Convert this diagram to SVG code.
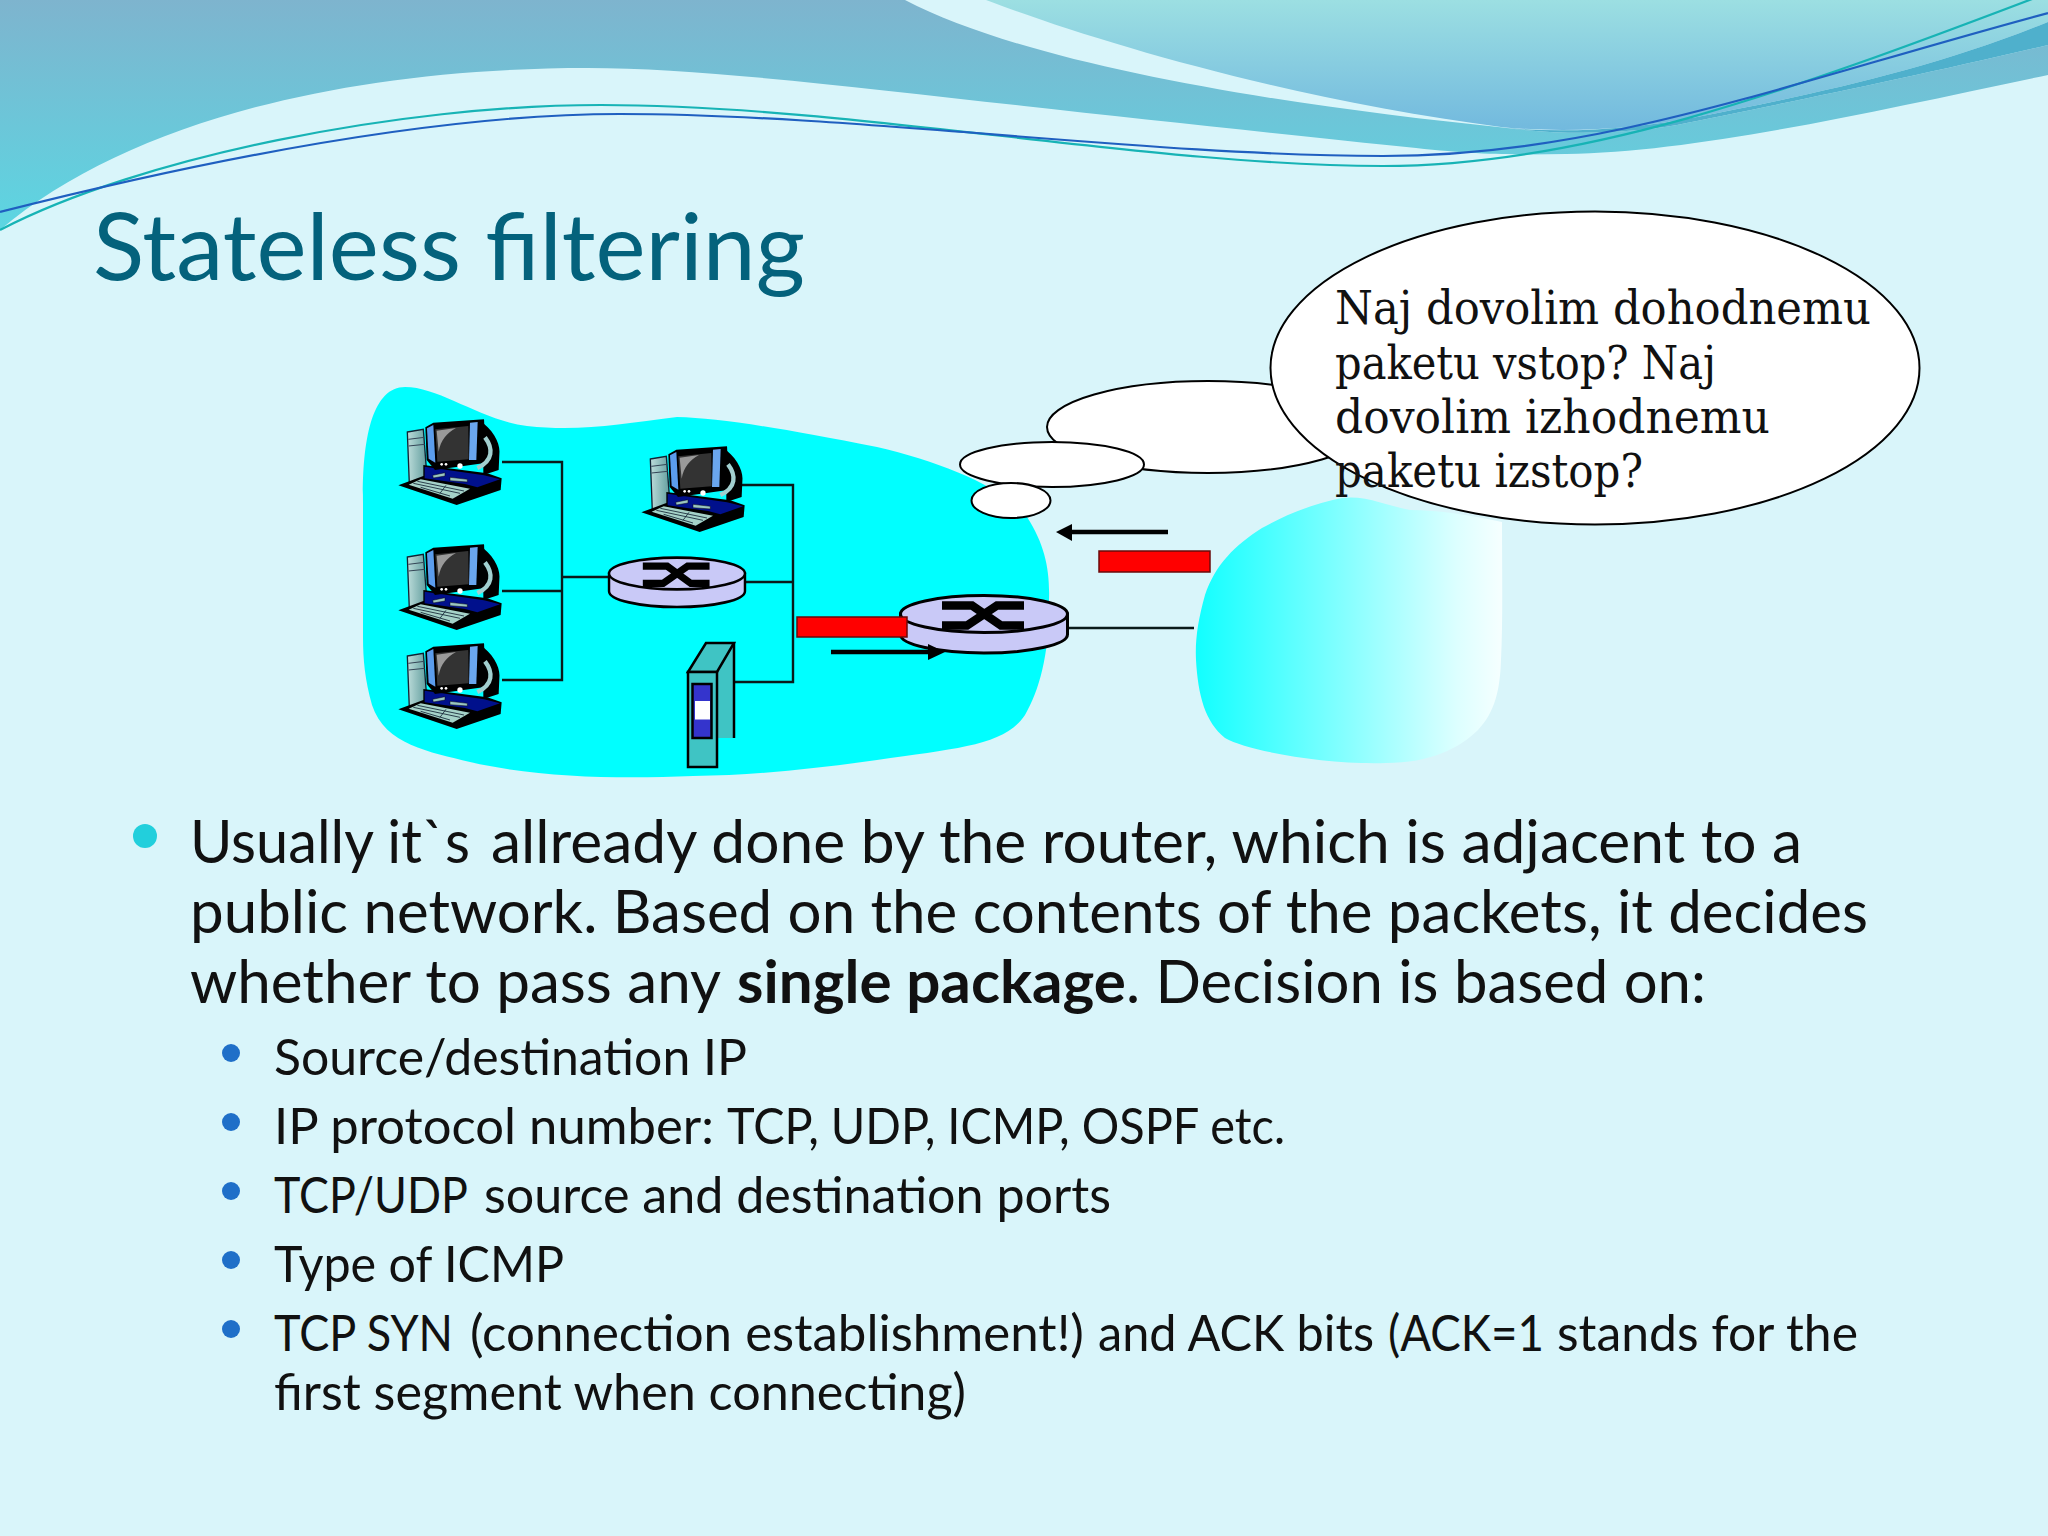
<svg xmlns="http://www.w3.org/2000/svg" xmlns:xlink="http://www.w3.org/1999/xlink" width="2048" height="1536" viewBox="0 0 2048 1536">
<style>
.wire{fill:none;stroke:#0a1a1a;stroke-width:2.4}
.bubble{fill:#fff;stroke:#000;stroke-width:2}
.pkt{fill:#f00;stroke:#6a0a0a;stroke-width:1.5}
.t1{font-family:"Lato","Liberation Sans",sans-serif;font-size:60px;fill:#111}
.t2{font-family:"Lato","Liberation Sans",sans-serif;font-size:50px;fill:#111}
.ct{font-family:"DejaVu Serif Condensed","DejaVu Serif",serif;font-size:46px;fill:#111}
.b1{fill:#22cfdc}.b2{fill:#1f6fc8}
</style>
<defs>
<linearGradient id="gA" x1="0" y1="0" x2="0" y2="230" gradientUnits="userSpaceOnUse"><stop offset="0" stop-color="#7eb4ce"/><stop offset="1" stop-color="#5cd6e2"/></linearGradient>
<linearGradient id="gB" x1="0" y1="0" x2="0" y2="130" gradientUnits="userSpaceOnUse"><stop offset="0" stop-color="#9cdfe2"/><stop offset="1" stop-color="#72b9de"/></linearGradient>
<linearGradient id="gC" x1="1196" y1="0" x2="1502" y2="0" gradientUnits="userSpaceOnUse"><stop offset="0" stop-color="#1ff"/><stop offset=".5" stop-color="#88ffff"/><stop offset=".85" stop-color="#dcffff"/><stop offset="1" stop-color="#f6ffff"/></linearGradient>
<linearGradient id="gT" x1="0" y1="0" x2="1" y2="0"><stop offset="0" stop-color="#bcdcda"/><stop offset="1" stop-color="#5f9c9c"/></linearGradient>
<g id="pc" transform="translate(390,410) scale(.3333)">
<path d="M52,66 L100,58 L112,215 L58,222 Z" fill="url(#gT)" stroke="#123" stroke-width="4"/>
<path d="M55,88 L103,82 M56,108 L104,103" stroke="#345" stroke-width="3" fill="none"/>
<path d="M280,40 C318,70 332,110 328,135 L326,180 L280,195 Z" fill="#000"/>
<path d="M100,165 L292,190 L335,205 L332,240 L200,285 L25,226 L100,198 Z" fill="#000"/>
<path d="M104,170 L282,196 L330,208 L262,232 L225,222 L104,205 Z" fill="#00108c"/>
<path d="M56,224 L92,208 L240,236 L188,266 Z" fill="#a5d2c8"/>
<path d="M70,220 L210,250 M82,214 L222,243 M92,232 L180,258 M168,226 L150,250" stroke="#123" stroke-width="2.5" fill="none"/>
<path d="M128,196 L165,188 L165,198 L130,204 Z M180,202 L232,208 L232,216 L180,212 Z" fill="#9bc7c0" stroke="#001" stroke-width="1.5"/>
<path d="M106,52 L130,38 L282,28 L290,158 L135,180 L110,150 Z" fill="#000"/>
<path d="M111,55 L130,45 L136,158 L116,146 Z" fill="#5b9ded"/>
<path d="M240,38 L263,36 L259,150 L237,150 Z" fill="#6aa6ee"/>
<path d="M136,58 L235,48 L236,148 L142,155 Z" fill="#333"/>
<path d="M140,62 L198,54 C170,70 152,90 146,125 Z" fill="#9a9a9a"/>
<path d="M285,82 C310,115 310,152 262,174" stroke="#a2cfcf" stroke-width="13" fill="none"/>
<circle cx="155" cy="163" r="4" fill="#fff"/><circle cx="168" cy="163" r="4" fill="#fff"/><circle cx="210" cy="168" r="8" fill="#fff"/>
</g>
<g id="router">
<path d="M-83.5,0 V20.5 A83.5,18.5 0 0 0 83.5,20.5 V0 Z" fill="#c9c9f7" stroke="#000" stroke-width="3"/>
<ellipse cx="0" cy="0" rx="83.5" ry="18.5" fill="#c9c9f7" stroke="#000" stroke-width="3"/>
<path d="M-42,-8.5 H-12 L17,11.5 H40 M-42,11.500 H-17 L13,-8.5 H40" fill="none" stroke="#000" stroke-width="8.5"/>
</g>
</defs>
<rect id="background" width="2048" height="1536" fill="#d9f5fa"/>
<g id="wave">
<path d="M0,0 L905,0 C1030,65 1280,105 1507,128 C1570,136 1630,133 1677,125 C1760,108 1900,80 2048,45 L2048,75 C1880,110 1700,152 1566,154 C1520,155 1480,155 1416,148 C1300,136 1150,120 1024,106 C860,88 700,68 588,68 C350,68 130,120 0,230 Z" fill="url(#gA)"/>
<path d="M986,0 C1090,40 1290,100 1501,127 C1570,134 1640,128 1697,117 C1810,95 1930,70 2048,22 L2048,0 Z" fill="url(#gB)"/>
<path d="M1507,128 C1570,136 1630,133 1677,125 C1760,108 1900,80 2048,45 L2048,22 C1930,70 1810,95 1697,117 C1640,128 1570,134 1507,128 Z" fill="#4fb0cc"/>
<path d="M0,230 C140,157 400,105 601,105 C850,105 1150,166 1383,166 C1580,166 1780,95 2040,-4" fill="none" stroke="#17b3b5" stroke-width="2.2"/>
<path d="M0,212 C170,169 420,114 620,114 C850,114 1150,156 1383,156 C1600,156 1780,85 2048,13" fill="none" stroke="#1f5fc0" stroke-width="2.2"/>
</g>
<text id="title" x="93" y="280" font-family="Lato,'Liberation Sans',sans-serif" font-size="94" fill="#04627c" textLength="712" lengthAdjust="spacingAndGlyphs">Stateless filtering</text>
<g id="cloud-internal"><path d="M363,503 C362,440 372,387 405,387 C440,387 480,420 527,426 C580,432 620,424 677,417 C720,418 780,428 877,447 C940,462 1000,485 1027,517 C1045,545 1050,570 1049,600 C1050,650 1040,690 1025,715 C1005,745 960,748 877,760 C820,768 760,775 693,776 C620,779 540,778 470,762 C430,752 385,745 372,705 C365,680 363,660 363,637 Z" fill="#0ff"/></g>
<g id="cloud-public"><path d="M1342,498 C1315,503 1285,515 1262,528 C1235,545 1215,565 1205,595 C1198,620 1195,640 1196,660 C1198,695 1205,722 1225,738 C1250,752 1330,765 1386,763 C1430,763 1460,748 1478,730 C1495,712 1500,690 1501,660 C1503,620 1502,570 1502,522 C1470,515 1440,510 1410,510 C1385,505 1365,495 1342,498 Z" fill="url(#gC)"/></g>
<g id="connectors">
<path class="wire" d="M502,462 H562 V680 H502 M502,591 H562 M562,577 H608 M746,582 H793 M740,485 H793 V682 H735 M1068,628 H1194"/>
</g>
<g id="pc1"><use xlink:href="#pc" href="#pc"/></g>
<g id="pc2"><use href="#pc" xlink:href="#pc" y="125"/></g>
<g id="pc3"><use href="#pc" xlink:href="#pc" y="224"/></g>
<g id="pc4"><use href="#pc" xlink:href="#pc" x="243" y="27"/></g>
<g id="router1"><use href="#router" xlink:href="#router" transform="translate(677,573.500) scale(.814,.86)"/></g>
<g id="router2"><use href="#router" xlink:href="#router" transform="translate(984,614)"/></g>
<g id="server">
<path d="M717,672 L734,643 V738 H717 Z" fill="#3fc4c4"/>
<path d="M688,672 L706,643 H734 L717,672 Z" fill="#3fc4c4" stroke="#000" stroke-width="2.5"/>
<path d="M734,643 V738" stroke="#000" stroke-width="2.5"/>
<rect x="688" y="672" width="29" height="95" fill="#3fc4c4" stroke="#000" stroke-width="2.5"/>
<rect x="692.5" y="684" width="19" height="54" fill="#3434cc" stroke="#000" stroke-width="2.5"/>
<rect x="695" y="701" width="15" height="18.500" fill="#fff"/>
</g>
<g id="packet-out"><rect class="pkt" x="797" y="617" width="110" height="20"/>
<path d="M831,652 H930" stroke="#000" stroke-width="4.500" fill="none"/><path d="M945,652 L928,644 V660 Z" fill="#000"/></g>
<g id="packet-in"><rect class="pkt" x="1099" y="551" width="111" height="21"/>
<path d="M1168,532 H1070" stroke="#000" stroke-width="4.500" fill="none"/><path d="M1056,532 L1072,524 V541 Z" fill="#000"/></g>
<g id="callout">
<ellipse class="bubble" cx="1208" cy="427" rx="161" ry="46"/>
<ellipse class="bubble" cx="1052" cy="464.500" rx="92" ry="22.500"/>
<ellipse class="bubble" cx="1011" cy="500.500" rx="39.500" ry="17.500"/>
<ellipse class="bubble" cx="1595" cy="368" rx="324.500" ry="156.500"/>
<text class="ct" x="1335" y="324" textLength="536" lengthAdjust="spacingAndGlyphs">Naj dovolim dohodnemu</text>
<text class="ct" x="1335" y="379" textLength="381" lengthAdjust="spacingAndGlyphs">paketu vstop? Naj</text>
<text class="ct" x="1335" y="433" textLength="435" lengthAdjust="spacingAndGlyphs">dovolim izhodnemu</text>
<text class="ct" x="1335" y="487" textLength="308" lengthAdjust="spacingAndGlyphs">paketu izstop?</text>
</g>
<g id="body">
<circle class="b1" cx="145" cy="836" r="12"/>
<text class="t1" x="190" y="863" textLength="280" lengthAdjust="spacingAndGlyphs">Usually it`s</text>
<text class="t1" x="491" y="863" textLength="1311" lengthAdjust="spacingAndGlyphs">allready done by the router, which is adjacent to a</text>
<text class="t1" x="190" y="933" textLength="1678" lengthAdjust="spacingAndGlyphs">public network. Based on the contents of the packets, it decides</text>
<text class="t1" x="190" y="1003" textLength="531" lengthAdjust="spacingAndGlyphs">whether to pass any</text>
<text class="t1" x="737" y="1003" font-weight="700" textLength="389" lengthAdjust="spacingAndGlyphs">single package</text>
<text class="t1" x="1126" y="1003" textLength="580" lengthAdjust="spacingAndGlyphs">. Decision is based on:</text>
<circle class="b2" cx="231" cy="1053" r="9"/>
<text class="t2" x="274" y="1075" textLength="473" lengthAdjust="spacingAndGlyphs">Source/destination IP</text>
<circle class="b2" cx="231" cy="1122" r="9"/>
<text class="t2" x="274" y="1144" textLength="440" lengthAdjust="spacingAndGlyphs">IP protocol number:</text>
<text class="t2" x="727" y="1144" textLength="558" lengthAdjust="spacingAndGlyphs">TCP, UDP, ICMP, OSPF etc.</text>
<circle class="b2" cx="231" cy="1191" r="9"/>
<text class="t2" x="274" y="1213" textLength="194" lengthAdjust="spacingAndGlyphs">TCP/UDP</text>
<text class="t2" x="484" y="1213" textLength="627" lengthAdjust="spacingAndGlyphs">source and destination ports</text>
<circle class="b2" cx="231" cy="1260" r="9"/>
<text class="t2" x="274" y="1282" textLength="290" lengthAdjust="spacingAndGlyphs">Type of ICMP</text>
<circle class="b2" cx="231" cy="1329" r="9"/>
<text class="t2" x="274" y="1351" textLength="179" lengthAdjust="spacingAndGlyphs">TCP SYN</text>
<text class="t2" x="470" y="1351" textLength="614" lengthAdjust="spacingAndGlyphs">(connection establishment!)</text>
<text class="t2" x="1098" y="1351" textLength="276" lengthAdjust="spacingAndGlyphs">and ACK bits</text>
<text class="t2" x="1388" y="1351" textLength="156" lengthAdjust="spacingAndGlyphs">(ACK=1</text>
<text class="t2" x="1557" y="1351" textLength="301" lengthAdjust="spacingAndGlyphs">stands for the</text>
<text class="t2" x="274" y="1410" textLength="692" lengthAdjust="spacingAndGlyphs">first segment when connecting)</text>
</g>
</svg>
